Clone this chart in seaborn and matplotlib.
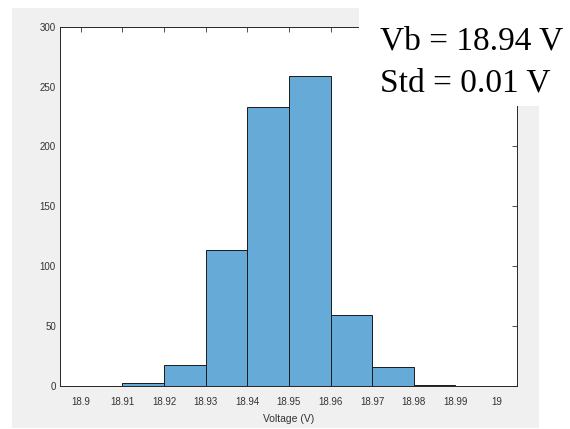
import numpy as np
import matplotlib
matplotlib.use("Agg")
import matplotlib.pyplot as plt
from matplotlib.patches import Rectangle
import seaborn as sns

# histogram data
bin_edges = [18.91, 18.92, 18.93, 18.94, 18.95, 18.96, 18.97, 18.98, 18.99]
counts = [2, 17, 113, 233, 259, 59, 16, 1]
x_ticks = [18.9, 18.91, 18.92, 18.93, 18.94, 18.95, 18.96, 18.97, 18.98, 18.99, 19.0]
x_tick_labels = ["18.9", "18.91", "18.92", "18.93", "18.94", "18.95",
                 "18.96", "18.97", "18.98", "18.99", "19"]
y_ticks = [0, 50, 100, 150, 200, 250, 300]
note_lines = ["Vb = 18.94 V", "Std = 0.01 V"]

sns.set_style("white")
plt.rcParams["font.family"] = ["Liberation Sans", "DejaVu Sans"]

W, H = 570, 429
fig = plt.figure(figsize=(W / 100, H / 100), dpi=100)
fig.patch.set_facecolor("white")

# matlab-like grey figure panel
fig.add_artist(Rectangle((12 / W, 1 - 428 / H), (539 - 12) / W, (428 - 8) / H,
                         transform=fig.transFigure, facecolor="#f0f0f0",
                         edgecolor="none", zorder=-5))

ax = fig.add_axes([60 / W, 1 - 385.7 / H, (517 - 60) / W, (385.7 - 26.7) / H])
ax.set_facecolor("white")

centers = [(a + b) / 2 for a, b in zip(bin_edges[:-1], bin_edges[1:])]
sns.histplot(x=centers, weights=counts, bins=bin_edges, ax=ax,
             color="#66aad7", alpha=1, edgecolor="#1a1a1a", linewidth=0.7)

ax.set_xlim(18.895, 19.0048)
ax.set_ylim(0, 300)
ax.set_xticks(x_ticks)
ax.set_xticklabels(x_tick_labels)
ax.set_yticks(y_ticks)
ax.set_ylabel("")
ax.set_xlabel("Voltage (V)", fontsize=7.5, color="#333333", labelpad=5)
ax.tick_params(axis="both", direction="in", length=3.5, width=0.6,
               colors="#333333", labelsize=7, top=True, right=True)
ax.tick_params(axis="x", pad=8)
ax.tick_params(axis="y", pad=3)
for s in ax.spines.values():
    s.set_visible(True)
    s.set_color("#262626")
    s.set_linewidth(0.7)

# white box with the annotation, covering the top right corner
fig.add_artist(Rectangle((359 / W, 1 - 106 / H), 1 - 359 / W, 106 / H,
                         transform=fig.transFigure, facecolor="white",
                         edgecolor="none", zorder=5))
fig.text(380 / W, 1 - 49 / H, note_lines[0], fontsize=24, va="baseline",
         family=["Liberation Serif", "DejaVu Serif"], color="black", zorder=6)
fig.text(380 / W, 1 - 91 / H, note_lines[1], fontsize=24, va="baseline",
         family=["Liberation Serif", "DejaVu Serif"], color="black", zorder=6)

fig.savefig("out.png", dpi=100)
